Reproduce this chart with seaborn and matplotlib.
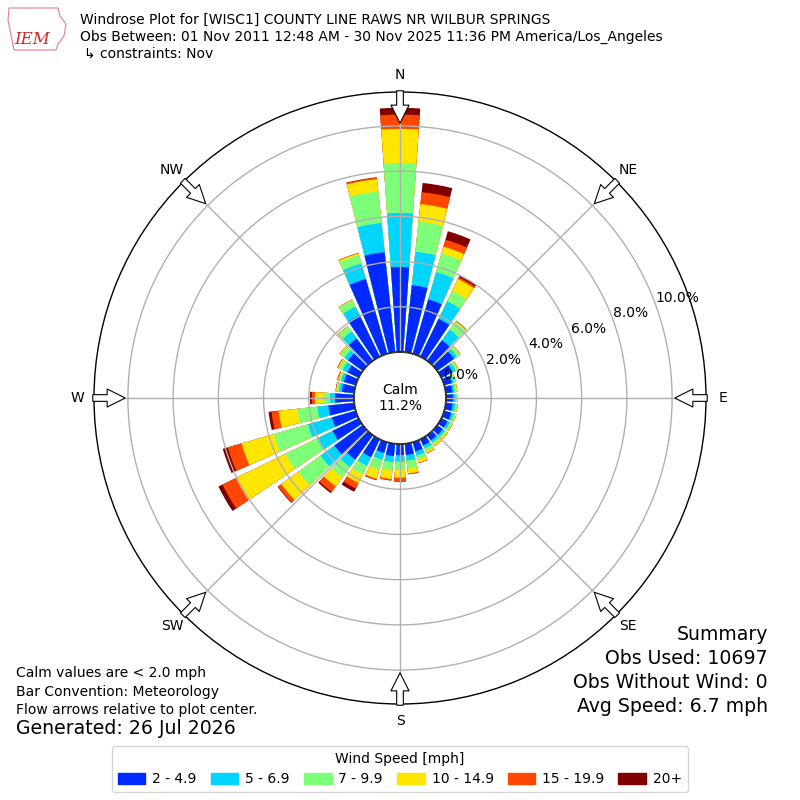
import numpy as np
import pandas as pd
import matplotlib.pyplot as plt
import matplotlib.patches as mpatches
import seaborn as sns

# wind directions (deg, from) and percent of obs per speed bin
directions = np.arange(0, 360, 10)
speed_bins = ["2 - 4.9", "5 - 6.9", "7 - 9.9", "10 - 14.9", "15 - 19.9", "20+"]

pct_2_5 = [3.76, 2.98, 2.50, 1.86, 1.12, 0.92, 0.55, 0.35, 0.30, 0.31, 0.30, 0.32,
           0.30, 0.30, 0.28, 0.30, 0.42, 0.50, 0.49, 0.55, 0.49, 0.88, 1.33, 1.55,
           1.28, 1.10, 1.15, 0.84, 0.55, 0.55, 0.55, 0.80, 1.22, 2.04, 3.44, 4.45]
pct_5_7 = [2.39, 1.49, 1.26, 0.86, 0.58, 0.16, 0.15, 0.10, 0.10, 0.11, 0.12, 0.12,
           0.12, 0.12, 0.12, 0.15, 0.20, 0.25, 0.29, 0.27, 0.31, 0.42, 0.40, 0.75,
           0.77, 1.10, 0.48, 0.22, 0.13, 0.13, 0.23, 0.20, 0.38, 0.42, 0.71, 1.30]
pct_7_10 = [2.21, 1.34, 0.86, 0.51, 0.42, 0.14, 0.10, 0.07, 0.08, 0.08, 0.08, 0.08,
            0.08, 0.08, 0.10, 0.13, 0.18, 0.35, 0.37, 0.38, 0.47, 0.43, 0.57, 1.22,
            1.54, 1.57, 0.90, 0.30, 0.08, 0.08, 0.17, 0.22, 0.27, 0.32, 0.39, 1.40]
pct_10_15 = [1.51, 0.78, 0.31, 0.59, 0.04, 0.04, 0.04, 0.03, 0.04, 0.03, 0.04, 0.04,
             0.05, 0.07, 0.08, 0.09, 0.14, 0.22, 0.34, 0.37, 0.41, 0.42, 0.50, 0.93,
             2.45, 1.49, 0.83, 0.37, 0.05, 0.06, 0.07, 0.04, 0.02, 0.02, 0.08, 0.55]
pct_15_20 = [0.63, 0.53, 0.32, 0.09, 0.02, 0.01, 0.01, 0.00, 0.00, 0.00, 0.00, 0.00,
             0.01, 0.01, 0.01, 0.02, 0.02, 0.04, 0.16, 0.06, 0.06, 0.27, 0.30, 0.17,
             0.66, 0.63, 0.32, 0.14, 0.02, 0.04, 0.03, 0.01, 0.01, 0.01, 0.02, 0.06]
pct_20_up = [0.30, 0.41, 0.39, 0.08, 0.01, 0.00, 0.00, 0.00, 0.00, 0.00, 0.00, 0.00,
             0.00, 0.00, 0.00, 0.00, 0.00, 0.00, 0.02, 0.01, 0.01, 0.16, 0.07, 0.03,
             0.20, 0.23, 0.13, 0.08, 0.00, 0.00, 0.00, 0.00, 0.00, 0.00, 0.00, 0.02]
calm_pct = 11.2

rings = [0, 2, 4, 6, 8, 10]
compass = ["N", "NE", "E", "SE", "S", "SW", "W", "NW"]

sns.set_theme(style="white")
plt.rcParams["font.family"] = ["DejaVu Sans"]
plt.rcParams["text.color"] = "black"
plt.rcParams["xtick.color"] = "black"
plt.rcParams["ytick.color"] = "black"

layers = np.array([pct_2_5, pct_5_7, pct_7_10, pct_10_15, pct_15_20, pct_20_up])
cum = np.cumsum(layers, axis=0)
df = pd.DataFrame(cum.T, columns=speed_bins)
df["theta"] = np.deg2rad(directions)

colors = plt.get_cmap("jet")(np.linspace(0, 1, 7)[1:])

fig = plt.figure(figsize=(8, 8), dpi=100)
ax = fig.add_axes([0.1175, 0.12, 0.765, 0.765], projection="polar")
ax.set_theta_zero_location("N")
ax.set_theta_direction(-1)

# stacked look: draw cumulative totals from the top bin down
for i in range(5, -1, -1):
    sns.barplot(data=df, x="theta", y=speed_bins[i], color=colors[i], native_scale=True,
                width=0.8, saturation=1, linewidth=0, errorbar=None, ax=ax)

ax.set_xlabel("")
ax.set_ylabel("")
ax.set_rorigin(-2.035)
ax.set_ylim(0, 11.5)
ax.set_xticks(np.deg2rad(np.arange(0, 360, 45)))
ax.set_xticklabels([])
ax.set_yticks(rings)
ax.set_yticklabels([f"{r:.1f}%" for r in rings], fontsize=10)
ax.set_rlabel_position(70)
ax.set_axisbelow(False)
ax.grid(True, color="#b0b0b0", linewidth=1)
ax.spines["polar"].set_color("black")
ax.spines["polar"].set_linewidth(1)
tt = np.linspace(0, 2 * np.pi, 361)
ax.plot(tt, np.zeros_like(tt), color="black", lw=1, zorder=4)

ax.text(0.5, 0.5, f"Calm\n{calm_pct:.1f}%", transform=ax.transAxes, ha="center",
        va="center", fontsize=10)

# compass labels and flow arrows
for k, lab in enumerate(compass):
    a = np.deg2rad(k * 45)
    s, c = np.sin(a), np.cos(a)
    ax.text(0.5 + 0.527 * s, 0.5 + 0.527 * c, lab, transform=ax.transAxes,
            ha="center", va="center", fontsize=10)
    ax.annotate("", xy=(0.5 + 0.449 * s, 0.5 + 0.449 * c),
                xytext=(0.5 + 0.502 * s, 0.5 + 0.502 * c),
                xycoords=ax.transAxes, textcoords=ax.transAxes, annotation_clip=False,
                arrowprops=dict(arrowstyle="simple,head_length=1.3,head_width=1.3,tail_width=0.48",
                                fc="white", ec="black", lw=0.8, shrinkA=0, shrinkB=0,
                                mutation_scale=10), zorder=5)

# header
fig.text(80 / 800, 1 - 20 / 800, "Windrose Plot for [WISC1] COUNTY LINE RAWS NR WILBUR SPRINGS",
         fontsize=10, va="center")
fig.text(80 / 800, 1 - 37 / 800,
         "Obs Between: 01 Nov 2011 12:48 AM - 30 Nov 2025 11:36 PM America/Los_Angeles",
         fontsize=10, va="center")
fig.text(84 / 800, 1 - 54 / 800, "\u21b3 constraints: Nov", fontsize=10, va="center")

# rough logo: state outline with IEM
logo = np.array([[9, 8], [58, 8], [60, 16], [66, 24], [64, 36], [58, 44], [56, 50],
                 [14, 50], [12, 40], [8, 20]])
fig.add_artist(mpatches.Polygon(np.column_stack([logo[:, 0] / 800, 1 - logo[:, 1] / 800]),
                                closed=True, fill=False, ec="#e88080", lw=0.8))
fig.text(32 / 800, 1 - 39 / 800, "IEM", fontsize=12, color="#d62728", style="italic",
         family="serif", ha="center", va="center")

# footer notes
fig.text(16 / 800, 1 - 673 / 800, "Calm values are < 2.0 mph", fontsize=10, va="center")
fig.text(16 / 800, 1 - 692 / 800, "Bar Convention: Meteorology", fontsize=10, va="center")
fig.text(16 / 800, 1 - 710 / 800, "Flow arrows relative to plot center.", fontsize=10, va="center")
fig.text(16 / 800, 1 - 729 / 800, "Generated: 26 Jul 2026", fontsize=13.6, va="center")

summary = ["Summary", "Obs Used: 10697", "Obs Without Wind: 0", "Avg Speed: 6.7 mph"]
for j, line in enumerate(summary):
    fig.text(768 / 800, 1 - (635 + 23.7 * j) / 800, line, fontsize=13.6, ha="right", va="center")

handles = [mpatches.Patch(color=colors[i]) for i in range(6)]
fig.legend(handles, speed_bins, loc="upper center", bbox_to_anchor=(0.5, 1 - 739 / 800),
           ncol=6, title="Wind Speed [mph]", fontsize=10, title_fontsize=10, frameon=True,
           handlelength=2.0, handleheight=0.8, handletextpad=0.5, columnspacing=1.0)

fig.savefig("out.png", dpi=100)
